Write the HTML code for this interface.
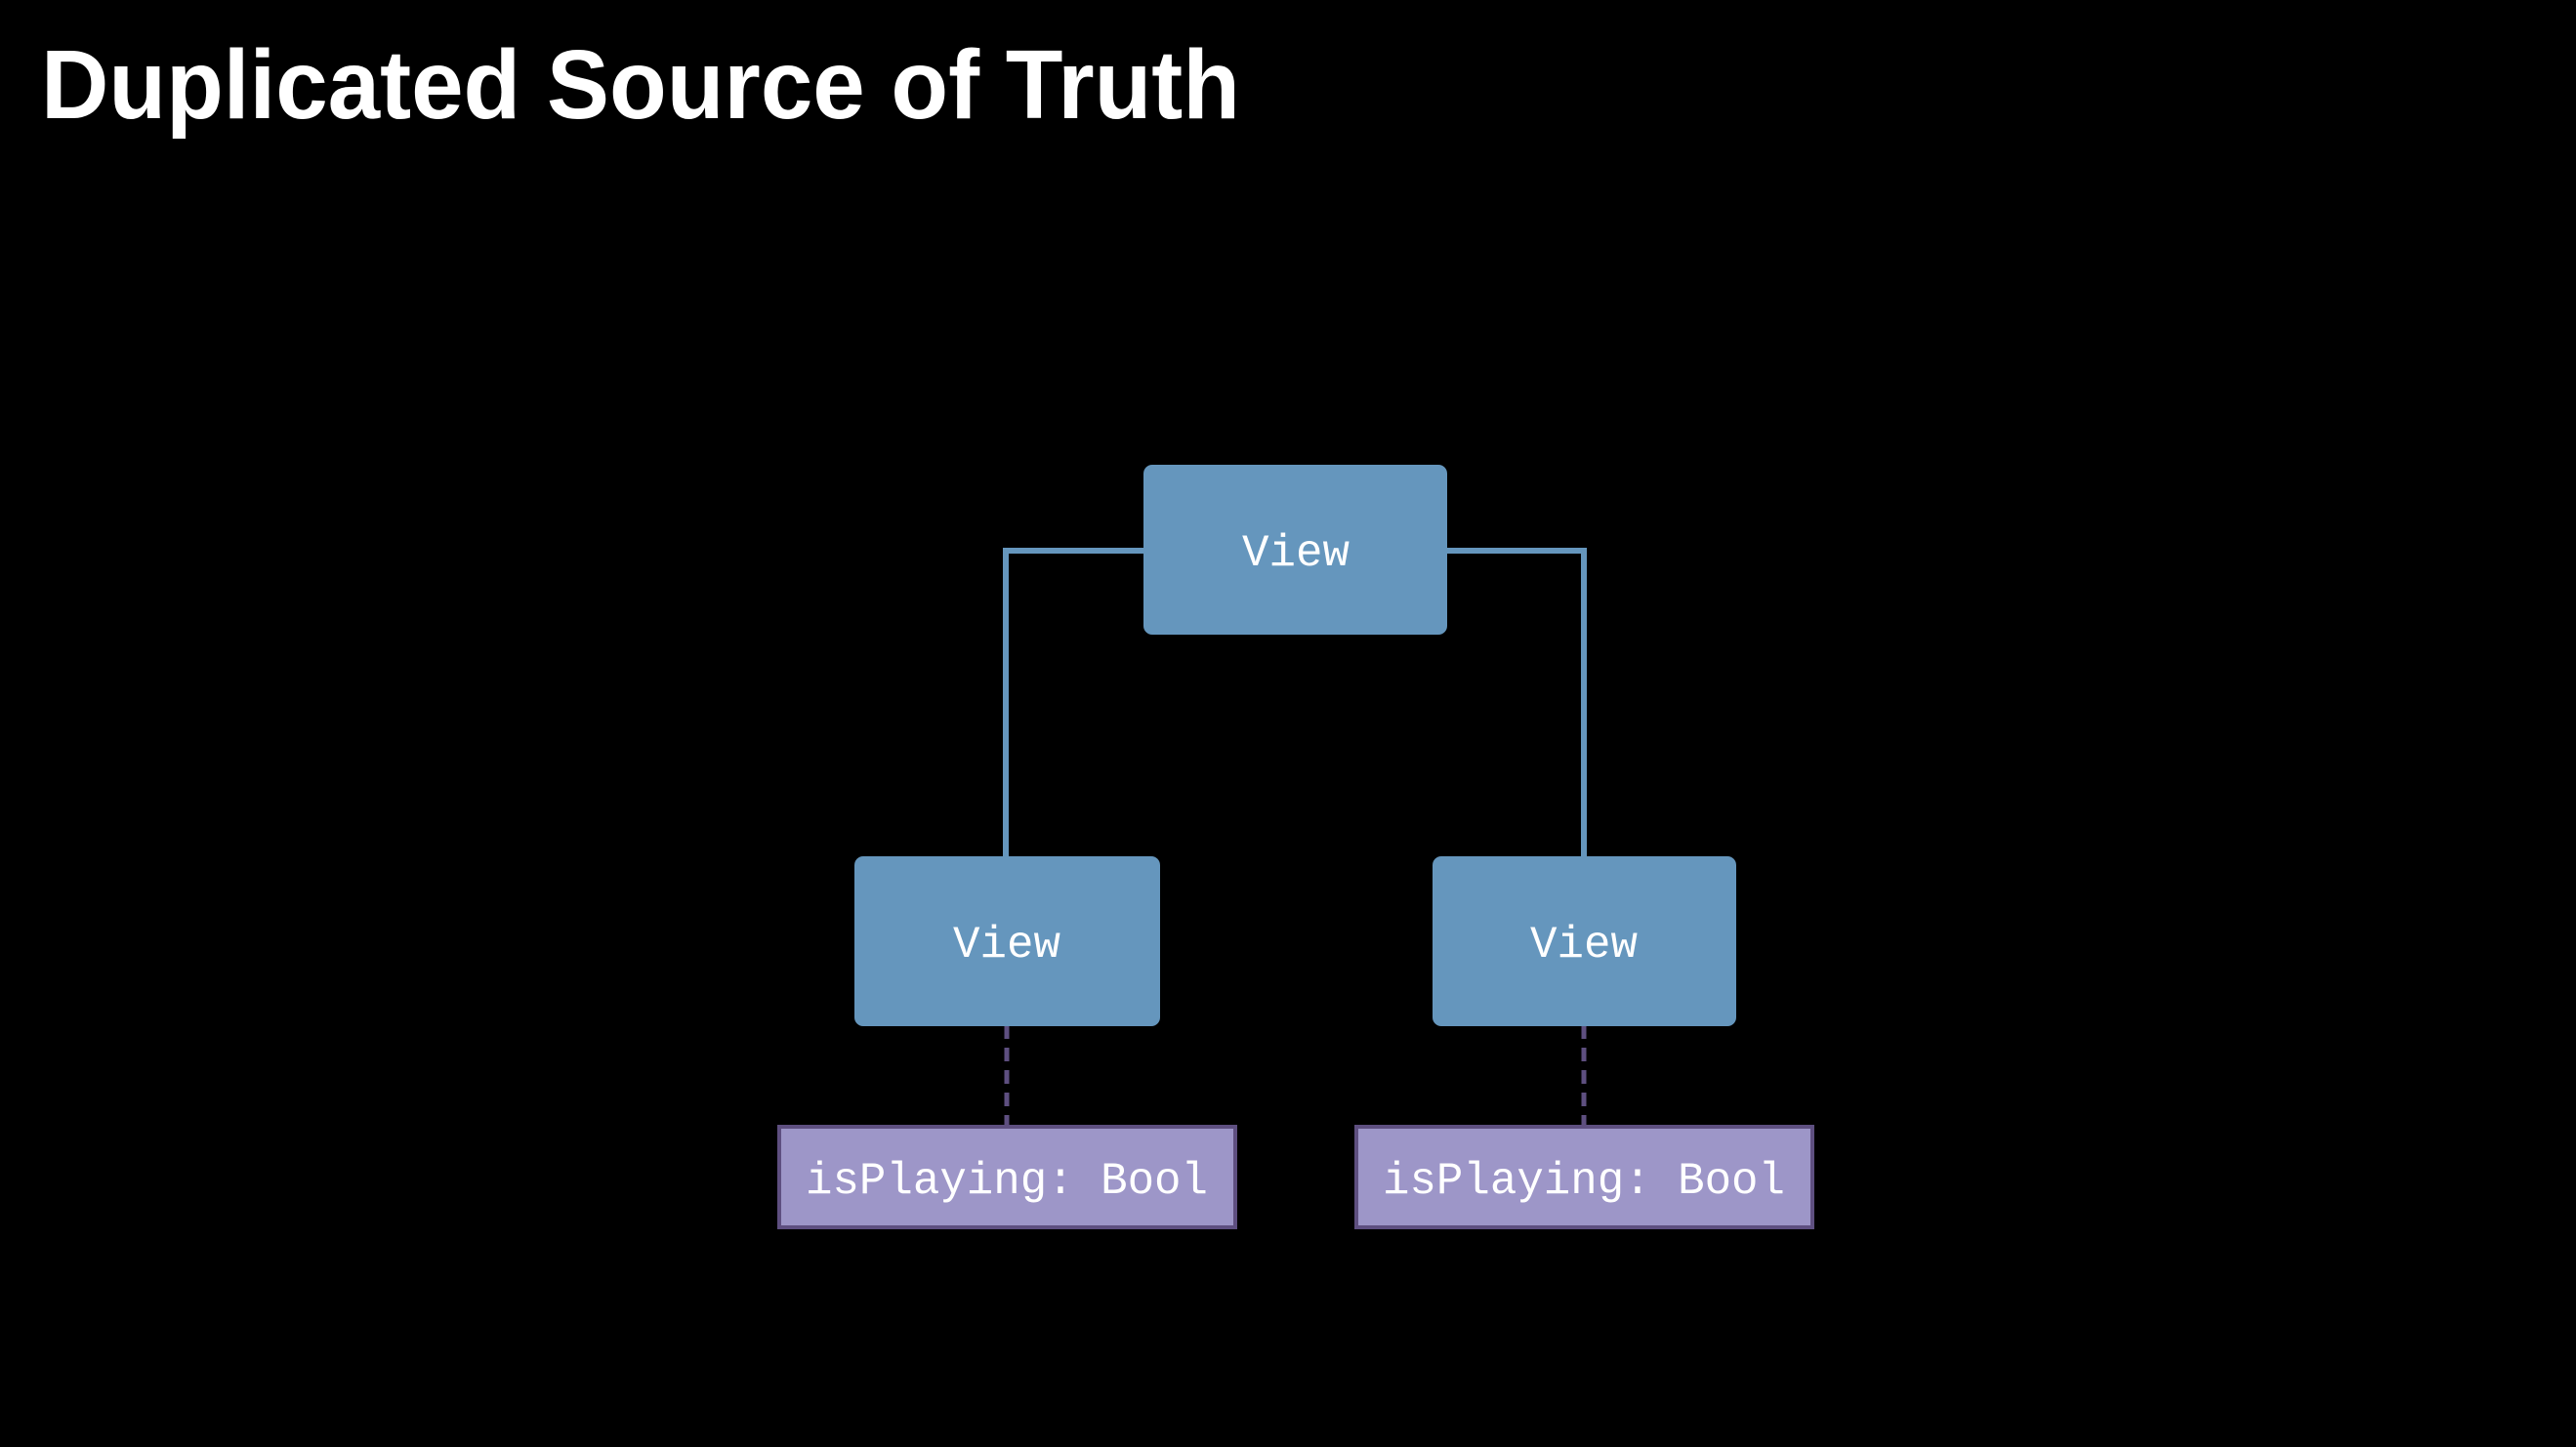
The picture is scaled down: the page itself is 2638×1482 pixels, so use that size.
<!DOCTYPE html>
<html><head><meta charset="utf-8"><style>
html,body{margin:0;padding:0;background:#000;}
svg{display:block}
</style></head><body>
<svg width="2638" height="1482" viewBox="0 0 2638 1482" xmlns="http://www.w3.org/2000/svg">
<rect width="2638" height="1482" fill="#000"/>
<text x="42" y="121" font-family="Liberation Sans, sans-serif" font-weight="bold" font-size="100" fill="#fff" textLength="1228" lengthAdjust="spacingAndGlyphs">Duplicated Source of Truth</text>
<!-- connectors -->
<polyline points="1030,877 1030,564 1171,564" fill="none" stroke="#6596bd" stroke-width="6"/>
<polyline points="1482,564 1622,564 1622,877" fill="none" stroke="#6596bd" stroke-width="6"/>
<line x1="1031" y1="1050" x2="1031" y2="1152" stroke="#5e4f80" stroke-width="5" stroke-dasharray="14,9"/>
<line x1="1622" y1="1050" x2="1622" y2="1152" stroke="#5e4f80" stroke-width="5" stroke-dasharray="14,9"/>
<!-- boxes -->
<rect x="1171" y="476" width="311" height="174" rx="9" fill="#6596bd"/>
<rect x="875" y="877" width="313" height="174" rx="9" fill="#6596bd"/>
<rect x="1467" y="877" width="311" height="174" rx="9" fill="#6596bd"/>
<g font-family="Liberation Mono, monospace" font-size="46" fill="#fff" text-anchor="middle">
<text x="1327" y="579" textLength="110" lengthAdjust="spacingAndGlyphs">View</text>
<text x="1031" y="980" textLength="110" lengthAdjust="spacingAndGlyphs">View</text>
<text x="1622" y="980" textLength="110" lengthAdjust="spacingAndGlyphs">View</text>
</g>
<rect x="798" y="1154" width="467" height="103" fill="#9d96c8" stroke="#5e4f80" stroke-width="4"/>
<rect x="1389" y="1154" width="467" height="103" fill="#9d96c8" stroke="#5e4f80" stroke-width="4"/>
<g font-family="Liberation Mono, monospace" font-size="46" fill="#fff" text-anchor="middle">
<text x="1031" y="1222" textLength="412" lengthAdjust="spacingAndGlyphs">isPlaying: Bool</text>
<text x="1622" y="1222" textLength="412" lengthAdjust="spacingAndGlyphs">isPlaying: Bool</text>
</g>
</svg>
</body></html>
